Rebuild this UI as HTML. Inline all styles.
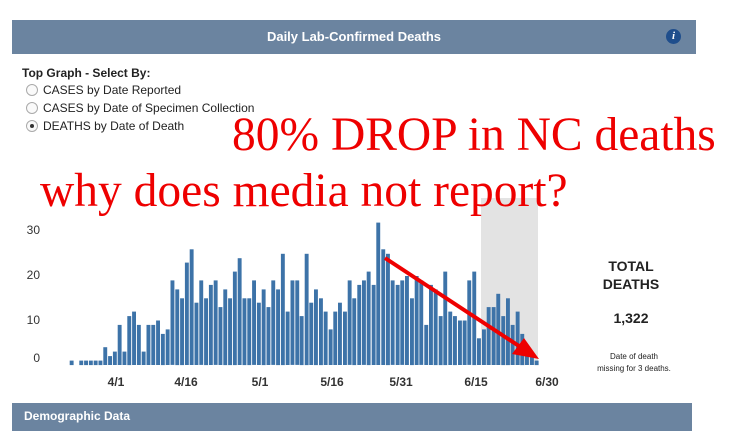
<!DOCTYPE html>
<html><head><meta charset="utf-8"><style>
body{margin:0;width:738px;height:431px;background:#fff;overflow:hidden;position:relative;font-family:"Liberation Sans",sans-serif;}
.hdr{position:absolute;left:12px;top:20px;width:684px;height:34px;background:#6b84a0;color:#fff;font-weight:bold;font-size:13px;text-align:center;line-height:34px;}
.info{position:absolute;left:666px;top:29px;width:15px;height:15px;border-radius:50%;background:#1f4e8c;color:#fff;font:italic bold 11px "Liberation Serif",serif;text-align:center;line-height:15px;}
.t{position:absolute;font-size:12px;color:#222;white-space:nowrap;}
.rad{position:absolute;width:10px;height:10px;border:1px solid #aaa;border-radius:50%;background:#fafafa;}
.red{position:absolute;font-family:"Liberation Serif",serif;color:#e00;white-space:nowrap;font-size:47.5px;line-height:1;}
.foot{position:absolute;left:12px;top:403px;width:680px;height:28px;background:#6b84a0;color:#fff;font-weight:bold;font-size:12px;line-height:26px;padding-left:12px;box-sizing:border-box;}
</style></head><body>
<div class="hdr">Daily Lab-Confirmed Deaths</div>
<div class="info">i</div>
<div class="t" style="left:22px;top:66px;font-weight:bold;">Top Graph - Select By:</div>
<div class="rad" style="left:26px;top:84px"></div><div class="t" style="left:43px;top:83px">CASES by Date Reported</div>
<div class="rad" style="left:26px;top:102px"></div><div class="t" style="left:43px;top:101px">CASES by Date of Specimen Collection</div>
<div class="rad" style="left:26px;top:120px"></div><div style="position:absolute;left:30px;top:124px;width:4px;height:4px;border-radius:50%;background:#333"></div><div class="t" style="left:43px;top:119px">DEATHS by Date of Death</div>
<svg width="738" height="431" style="position:absolute;left:0;top:0" id="s">
<rect x="481" y="198" width="57" height="167" fill="#e3e3e3"/>
<g id="bars" fill="#3d73a8"></g>
<g font-family="Liberation Sans" font-size="12" fill="#333">
<text x="40" y="234" text-anchor="end">30</text>
<text x="40" y="279" text-anchor="end">20</text>
<text x="40" y="324" text-anchor="end">10</text>
<text x="40" y="362" text-anchor="end">0</text>
<g font-weight="bold" text-anchor="middle">
<text x="116" y="386">4/1</text><text x="186" y="386">4/16</text><text x="260" y="386">5/1</text><text x="332" y="386">5/16</text><text x="401" y="386">5/31</text><text x="476" y="386">6/15</text><text x="547" y="386">6/30</text>
</g></g>
<g font-family="Liberation Sans" fill="#222" text-anchor="middle">
<text x="631" y="271" font-size="14" font-weight="bold">TOTAL</text>
<text x="631" y="289" font-size="14" font-weight="bold">DEATHS</text>
<text x="631" y="323" font-size="14" font-weight="bold">1,322</text>
<text x="634" y="359" font-size="8">Date of death</text>
<text x="634" y="371" font-size="8">missing for 3 deaths.</text>
</g>
<line x1="385" y1="258" x2="522" y2="348" stroke="#e00" stroke-width="4"/>
<polygon points="539,359 512,354 524,338" fill="#e00"/>
</svg>
<div class="red" style="left:232px;top:112px;">80% DROP in NC deaths</div>
<div class="red" style="left:40px;top:168px;">why does media not report?</div>
<div class="foot">Demographic Data</div>
<script>
var a=[1,null,1,1,1,1,1,4,2,3,9,3,11,12,9,3,9,9,10,7,8,19,17,15,23,26,14,19,15,18,19,13,17,15,21,24,15,15,19,14,17,13,19,17,25,12,19,19];
var b=[[35,11],[50,25],[64,14],[78,17],[93,15],[107,12],[122,8],[136,12],[150,14],[165,12],[179,19],[193,15],[208,18],[222,19],[236,21],[251,18],[265,32],[280,26],[294,25],[308,19],[323,18],[337,19],[351,20],[366,15],[380,20],[394,19],[409,9],[423,18],[437,17],[452,11],[466,21],[481,12],[495,11],[510,10],[524,10],[538,19],[553,21],[567,6],[582,8],[596,13],[611,13],[625,16],[640,11],[654,15],[668,9],[683,12],[697,7],[711,3],[726,2],[740,1]];
var g=document.getElementById('bars'),h='';
function bar(x,v){var hh=v*4.45;h+='<rect x="'+(x-2).toFixed(1)+'" y="'+(365-hh).toFixed(1)+'" width="3.9" height="'+hh.toFixed(1)+'"/>';}
a.forEach(function(v,i){if(v!=null)bar(71.7+i*4.8,v);});
b.forEach(function(p){bar(290+p[0]/3,p[1]);});
g.innerHTML=h;
</script>
</body></html>
